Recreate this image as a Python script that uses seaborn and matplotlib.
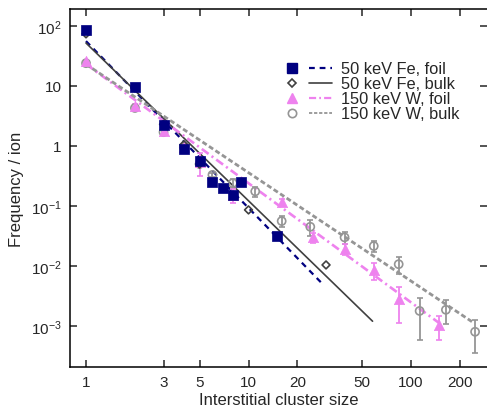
import matplotlib
matplotlib.use("Agg")
import matplotlib.pyplot as plt
import seaborn as sns
from matplotlib.lines import Line2D
from matplotlib.legend_handler import HandlerTuple
from matplotlib.ticker import FixedLocator, FixedFormatter, NullLocator

# data
fe_foil_x = [1, 2, 3, 4, 5, 6, 7, 8, 9, 15]
fe_foil_y = [86, 9.7, 2.25, 0.88, 0.56, 0.25, 0.20, 0.15, 0.25, 0.032]

fe_bulk_x = [1, 2, 3, 4, 5, 10, 30]
fe_bulk_y = [74, 9.3, 2.3, 1.05, 0.5, 0.086, 0.0104]

w_foil_x = [1, 2, 3, 4, 5, 8, 16, 25, 39, 59, 84, 149]
w_foil_y = [26, 4.7, 1.75, 0.95, 0.54, 0.15, 0.117, 0.030, 0.019, 0.0086, 0.0028, 0.00104]
w_foil_err = [1.0, 0.3, 0.1, 0.08, 0.22, 0.04, 0.012, 0.006, 0.004, 0.0028, 0.0017, 0.00045]

w_bulk_x = [1, 2, 3, 4, 5, 6, 8, 11, 16, 24, 39, 59, 84, 113, 164, 248]
w_bulk_y = [24, 4.3, 1.7, 0.95, 0.5, 0.33, 0.24, 0.175, 0.056, 0.045, 0.030,
            0.0215, 0.0107, 0.00178, 0.00186, 0.0008]
w_bulk_err = [0.8, 0.2, 0.08, 0.05, 0.04, 0.03, 0.04, 0.035, 0.011, 0.014, 0.007,
              0.0045, 0.0034, 0.0012, 0.0008, 0.00045]

# power-law fits (end points)
fe_foil_fit_x = [1, 29]
fe_foil_fit_y = [56, 0.0048]
fe_bulk_fit_x = [1, 58]
fe_bulk_fit_y = [52, 0.0012]
w_foil_fit_x = [1, 149]
w_foil_fit_y = [23.2, 0.00112]
w_bulk_fit_x = [1, 244]
w_bulk_fit_y = [23.0, 0.00112]

labels = ["50 keV Fe, foil", "50 keV Fe, bulk", "150 keV W, foil", "150 keV W, bulk"]

xticks = [1, 3, 5, 10, 20, 50, 100, 200]
yticks = [1e2, 10, 1, 1e-1, 1e-2, 1e-3]
ytick_labels = ["$10^{2}$", "10", "1", "$10^{-1}$", "$10^{-2}$", "$10^{-3}$"]

navy = "#000080"
dark = "#404040"
pink = "#EE82EE"
grey = "#959595"

sns.set_style("ticks")
plt.rcParams["font.family"] = ["Liberation Sans", "DejaVu Sans"]
plt.rcParams["mathtext.fontset"] = "custom"
plt.rcParams["mathtext.rm"] = "Liberation Sans"
plt.rcParams["mathtext.it"] = "Liberation Sans:italic"

fig = plt.figure(figsize=(4.87, 4.10), dpi=100)
ax = fig.add_axes([70 / 487, 1 - 368 / 410, 1 - 70 / 487, 358 / 410])
ax.set_xscale("log")
ax.set_yscale("log")

# fit lines
fe_foil_ls = (0, (2.6, 2.2))
w_foil_ls = (0, (3.2, 1.4, 0.8, 1.4))
w_bulk_ls = (0, (1.8, 1.0))
sns.lineplot(x=fe_foil_fit_x, y=fe_foil_fit_y, ax=ax, color=navy, lw=1.6, linestyle=fe_foil_ls)
sns.lineplot(x=fe_bulk_fit_x, y=fe_bulk_fit_y, ax=ax, color=dark, lw=1.2)
sns.lineplot(x=w_foil_fit_x, y=w_foil_fit_y, ax=ax, color=pink, lw=1.9, linestyle=w_foil_ls)
sns.lineplot(x=w_bulk_fit_x, y=w_bulk_fit_y, ax=ax, color=grey, lw=2.0, linestyle=w_bulk_ls)

# error bars
ax.errorbar(w_bulk_x, w_bulk_y, yerr=w_bulk_err, fmt="none", ecolor=grey,
            elinewidth=1.3, capsize=2.5, capthick=1.2, zorder=3)
ax.errorbar(w_foil_x, w_foil_y, yerr=w_foil_err, fmt="none", ecolor=pink,
            elinewidth=1.3, capsize=2.5, capthick=1.2, zorder=3)

# markers
sns.scatterplot(x=w_bulk_x, y=w_bulk_y, ax=ax, marker="o", s=34, facecolor="none",
                edgecolor=grey, linewidth=1.2, zorder=4)
sns.scatterplot(x=w_foil_x, y=w_foil_y, ax=ax, marker="^", s=55, color=pink,
                edgecolor=pink, linewidth=0.5, zorder=4)
sns.scatterplot(x=fe_bulk_x, y=fe_bulk_y, ax=ax, marker="D", s=16, facecolor="none",
                edgecolor=dark, linewidth=1.2, zorder=5)
sns.scatterplot(x=fe_foil_x, y=fe_foil_y, ax=ax, marker="s", s=50, color=navy,
                edgecolor=navy, linewidth=0.5, zorder=6)

ax.set_xlim(0.797, 293.6)
ax.set_ylim(2.07e-4, 192)

ax.xaxis.set_major_locator(FixedLocator(xticks))
ax.xaxis.set_major_formatter(FixedFormatter([str(t) for t in xticks]))
ax.xaxis.set_minor_locator(NullLocator())
ax.yaxis.set_major_locator(FixedLocator(yticks))
ax.yaxis.set_major_formatter(FixedFormatter(ytick_labels))
ax.yaxis.set_minor_locator(NullLocator())
ax.tick_params(which="both", direction="in", top=True, right=True, length=5,
               width=1.1, labelsize=11, pad=6)
for side in ["left", "bottom", "top"]:
    ax.spines[side].set_linewidth(1.1)
    ax.spines[side].set_color("black")
ax.spines["right"].set_visible(False)

ax.set_xlabel("Interstitial cluster size", fontsize=12, labelpad=2)
ax.set_ylabel("Frequency / ion", fontsize=12, labelpad=5)

# legend: marker then line
mk = dict(linestyle="none")
handles = [
    (Line2D([], [], marker="s", color=navy, ms=6.5, **mk),
     Line2D([], [], color=navy, lw=1.6, linestyle=fe_foil_ls)),
    (Line2D([], [], marker="D", mfc="none", mec=dark, mew=1.2, ms=4, **mk),
     Line2D([], [], color=dark, lw=1.2)),
    (Line2D([], [], marker="^", color=pink, ms=7.5, **mk),
     Line2D([], [], color=pink, lw=1.6, linestyle=w_foil_ls)),
    (Line2D([], [], marker="o", mfc="none", mec=grey, mew=1.2, ms=6, **mk),
     Line2D([], [], color=grey, lw=1.3, linestyle=w_bulk_ls)),
]
ax.legend(handles, labels, handler_map={tuple: HandlerTuple(ndivide=None, pad=0.3)},
          loc="upper left", bbox_to_anchor=(0.47, 0.895), frameon=False,
          fontsize=11.8, handlelength=3.1, handletextpad=0.55, labelspacing=0.0)

fig.savefig("out.png", dpi=100)
